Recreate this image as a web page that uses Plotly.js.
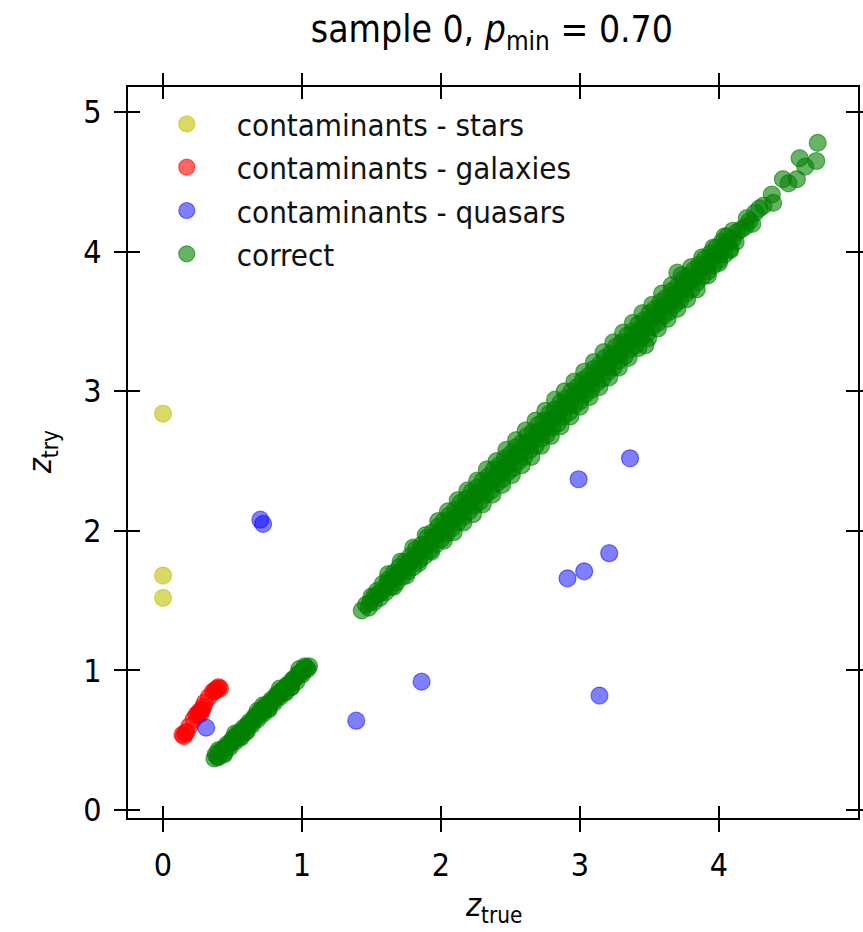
<!DOCTYPE html>
<html>
<head>
<meta charset="utf-8">
<script src="https://cdn.plot.ly/plotly-3.0.1.min.js"></script>
<style>
  html, body { margin: 0; padding: 0; background: #fff; }
  #chart { width: 863px; height: 932px; }
</style>
</head>
<body>
<div id="chart"></div>
<script>
// Contaminating stars: true redshift vs. the redshift tried
const starsZTrue = [0.00, 0.00, 0.00];
const starsZTry  = [2.84, 1.68, 1.52];

// Contaminating galaxies
const galaxiesZTrue = [0.14, 0.15, 0.16, 0.17, 0.19, 0.22, 0.24, 0.25, 0.26, 0.27, 0.27, 0.28,
                       0.29, 0.30, 0.33, 0.36, 0.37, 0.38, 0.39, 0.40, 0.41];
const galaxiesZTry  = [0.54, 0.53, 0.55, 0.56, 0.60, 0.65, 0.68, 0.69, 0.70, 0.71, 0.69, 0.72,
                       0.74, 0.77, 0.81, 0.85, 0.85, 0.86, 0.87, 0.88, 0.87];

// Contaminating quasars
const quasarsZTrue = [0.31, 0.70, 0.72, 1.39, 1.86, 3.36, 2.99, 3.21, 3.03, 2.91, 3.14];
const quasarsZTry  = [0.59, 2.08, 2.05, 0.64, 0.92, 2.52, 2.37, 1.84, 1.71, 1.66, 0.82];

// Correctly identified objects: low-z group
const correctLowZTrue = [
  0.37, 0.39, 0.41, 0.43, 0.45, 0.47, 0.49, 0.51, 0.53, 0.55,
  0.57, 0.59, 0.61, 0.63, 0.65, 0.67, 0.69, 0.71, 0.73, 0.75,
  0.77, 0.79, 0.81, 0.83, 0.85, 0.87, 0.89, 0.91, 0.93, 0.95,
  0.97, 0.99, 1.01, 1.03, 1.05,
  0.38, 0.40, 0.42, 0.44, 0.46, 0.48, 0.50, 0.52, 0.54, 0.56,
  0.58, 0.60, 0.62, 0.64, 0.66, 0.68, 0.70, 0.72, 0.74, 0.76,
  0.78, 0.80, 0.82, 0.84, 0.86, 0.88, 0.90, 0.92, 0.94, 0.96,
  0.98, 1.00, 1.02, 1.04,
  0.44, 0.52, 0.60, 0.68, 0.76, 0.84, 0.92, 0.98, 0.40, 0.56, 0.72, 0.88
];
const correctLowZTry = [
  0.37, 0.38, 0.41, 0.42, 0.45, 0.46, 0.49, 0.50, 0.53, 0.54,
  0.57, 0.58, 0.61, 0.62, 0.65, 0.66, 0.69, 0.70, 0.73, 0.74,
  0.77, 0.78, 0.81, 0.82, 0.85, 0.86, 0.89, 0.90, 0.93, 0.94,
  0.97, 0.98, 1.00, 1.02, 1.03,
  0.40, 0.38, 0.43, 0.41, 0.47, 0.45, 0.51, 0.49, 0.55, 0.53,
  0.59, 0.57, 0.63, 0.61, 0.67, 0.65, 0.71, 0.69, 0.75, 0.73,
  0.79, 0.77, 0.83, 0.81, 0.86, 0.85, 0.90, 0.88, 0.94, 0.92,
  0.98, 0.97, 1.03, 1.01,
  0.40, 0.55, 0.56, 0.71, 0.72, 0.87, 0.88, 1.01, 0.43, 0.52, 0.75, 0.84
];

// Correctly identified objects: main band, z > 1.4
const correctHighZTrue = [
  1.43, 1.46, 1.49, 1.52, 1.55, 1.58, 1.61, 1.64, 1.67, 1.70,
  1.73, 1.76, 1.79, 1.82, 1.85, 1.88, 1.91, 1.94, 1.97, 2.00,
  2.03, 2.06, 2.09, 2.12, 2.15, 2.18, 2.21, 2.24, 2.27, 2.30,
  2.33, 2.36, 2.39, 2.42, 2.45, 2.48, 2.51, 2.54, 2.57, 2.60,
  2.63, 2.66, 2.69, 2.72, 2.75, 2.78, 2.81, 2.84, 2.87, 2.90,
  2.93, 2.96, 2.99, 3.02, 3.05, 3.08, 3.11, 3.14, 3.17, 3.20,
  3.23, 3.26, 3.29, 3.32, 3.35, 3.38, 3.41, 3.44, 3.47, 3.50,
  3.53, 3.56, 3.59, 3.62, 3.65, 3.68, 3.71, 3.74, 3.77, 3.80,
  3.83, 3.86, 3.89, 3.92, 3.95, 3.98, 4.01, 4.04, 4.07, 4.10,
  4.13, 4.16, 4.19, 4.22,
  1.50, 1.54, 1.58, 1.62, 1.66, 1.70, 1.74, 1.78, 1.82, 1.86,
  1.90, 1.94, 1.98, 2.02, 2.06, 2.10, 2.14, 2.18, 2.22, 2.26,
  2.30, 2.34, 2.38, 2.42, 2.46, 2.50, 2.54, 2.58, 2.62, 2.66,
  2.70, 2.74, 2.78, 2.82, 2.86, 2.90, 2.94, 2.98, 3.02, 3.06,
  3.10, 3.14, 3.18, 3.22, 3.26, 3.30, 3.34, 3.38, 3.42, 3.46,
  3.50, 3.54, 3.58, 3.62, 3.66, 3.70, 3.74, 3.78, 3.82, 3.86,
  3.90, 3.94, 3.98, 4.02, 4.06, 4.10,
  1.48, 1.52, 1.56, 1.60, 1.64, 1.68, 1.72, 1.76, 1.80, 1.84,
  1.88, 1.92, 1.96, 2.00, 2.04, 2.08, 2.12, 2.16, 2.20, 2.24,
  2.28, 2.32, 2.36, 2.40, 2.44, 2.48, 2.52, 2.56, 2.60, 2.64,
  2.68, 2.72, 2.76, 2.80, 2.84, 2.88, 2.92, 2.96, 3.00, 3.04,
  3.08, 3.12, 3.16, 3.20, 3.24, 3.28, 3.32, 3.36, 3.40, 3.44,
  3.48, 3.52, 3.56, 3.60, 3.64, 3.68, 3.72, 3.76, 3.80, 3.84,
  3.88, 3.92, 3.96, 4.00, 4.04, 4.08, 4.12,
  // outer scatter above the band
  1.62, 1.71, 1.80, 1.89, 1.98, 2.05, 2.12, 2.19, 2.26, 2.33,
  2.40, 2.47, 2.54, 2.61, 2.68, 2.75, 2.82, 2.89, 2.96, 3.03,
  3.10, 3.17, 3.24, 3.31, 3.38, 3.45, 3.52, 3.59, 3.66, 3.73,
  3.80, 3.88, 3.96, 4.04,
  // outer scatter below the band
  1.66, 1.75, 1.84, 1.93, 2.02, 2.09, 2.16, 2.23, 2.30, 2.37,
  2.44, 2.51, 2.58, 2.65, 2.72, 2.79, 2.86, 2.93, 3.00, 3.07,
  3.14, 3.21, 3.28, 3.35, 3.42, 3.49, 3.56, 3.63, 3.70, 3.77,
  3.84, 3.92, 4.00, 4.08,
  3.47, 3.70, 4.20, 4.24, 4.26, 4.29, 4.32, 4.38, 4.39, 4.46,
  4.50, 4.56, 4.58, 4.62, 4.70, 4.71
];
const correctHighZTry = [
  1.43, 1.47, 1.49, 1.53, 1.55, 1.57, 1.62, 1.64, 1.68, 1.70,
  1.72, 1.77, 1.79, 1.82, 1.86, 1.88, 1.90, 1.95, 1.97, 2.00,
  2.02, 2.07, 2.09, 2.11, 2.16, 2.18, 2.20, 2.25, 2.27, 2.29,
  2.34, 2.36, 2.38, 2.43, 2.45, 2.47, 2.52, 2.54, 2.56, 2.61,
  2.63, 2.65, 2.70, 2.72, 2.74, 2.79, 2.81, 2.83, 2.88, 2.90,
  2.92, 2.97, 2.99, 3.01, 3.06, 3.08, 3.10, 3.15, 3.17, 3.19,
  3.24, 3.26, 3.28, 3.33, 3.35, 3.37, 3.42, 3.44, 3.46, 3.51,
  3.53, 3.55, 3.60, 3.62, 3.64, 3.69, 3.71, 3.73, 3.78, 3.80,
  3.82, 3.87, 3.89, 3.91, 3.96, 3.98, 4.00, 4.05, 4.07, 4.09,
  4.14, 4.16, 4.18, 4.22,
  1.53, 1.57, 1.62, 1.65, 1.70, 1.74, 1.78, 1.82, 1.87, 1.90,
  1.95, 1.99, 2.03, 2.07, 2.11, 2.15, 2.20, 2.23, 2.28, 2.31,
  2.36, 2.39, 2.44, 2.47, 2.52, 2.55, 2.60, 2.63, 2.68, 2.71,
  2.76, 2.79, 2.84, 2.87, 2.92, 2.95, 3.00, 3.03, 3.08, 3.11,
  3.16, 3.19, 3.24, 3.27, 3.32, 3.35, 3.40, 3.43, 3.48, 3.51,
  3.56, 3.59, 3.64, 3.67, 3.72, 3.75, 3.80, 3.83, 3.87, 3.91,
  3.95, 3.99, 4.03, 4.07, 4.11, 4.15,
  1.45, 1.49, 1.52, 1.56, 1.60, 1.63, 1.67, 1.71, 1.74, 1.79,
  1.82, 1.86, 1.90, 1.94, 1.98, 2.02, 2.06, 2.10, 2.14, 2.18,
  2.21, 2.26, 2.29, 2.34, 2.37, 2.42, 2.45, 2.50, 2.53, 2.58,
  2.61, 2.66, 2.69, 2.74, 2.77, 2.82, 2.85, 2.90, 2.93, 2.98,
  3.01, 3.06, 3.09, 3.14, 3.17, 3.22, 3.25, 3.30, 3.33, 3.38,
  3.41, 3.46, 3.49, 3.54, 3.57, 3.62, 3.65, 3.70, 3.73, 3.78,
  3.82, 3.86, 3.90, 3.94, 3.98, 4.02, 4.07,
  1.69, 1.78, 1.88, 1.97, 2.07, 2.14, 2.22, 2.29, 2.36, 2.44,
  2.50, 2.58, 2.65, 2.72, 2.79, 2.86, 2.94, 3.00, 3.07, 3.14,
  3.21, 3.28, 3.35, 3.42, 3.49, 3.56, 3.62, 3.70, 3.76, 3.83,
  3.89, 3.96, 4.03, 4.11,
  1.60, 1.68, 1.77, 1.85, 1.93, 1.99, 2.06, 2.12, 2.19, 2.26,
  2.33, 2.40, 2.47, 2.53, 2.61, 2.68, 2.75, 2.82, 2.89, 2.96,
  3.03, 3.10, 3.17, 3.24, 3.31, 3.38, 3.45, 3.52, 3.59, 3.66,
  3.73, 3.83, 3.92, 4.01,
  3.33, 3.85, 4.24, 4.20, 4.28, 4.31, 4.33, 4.41, 4.35, 4.52,
  4.49, 4.52, 4.67, 4.61, 4.65, 4.78
];

const correctZTrue = correctLowZTrue.concat(correctHighZTrue);
const correctZTry  = correctLowZTry.concat(correctHighZTry);

const xTicks = [0, 1, 2, 3, 4];
const yTicks = [0, 1, 2, 3, 4, 5];

const FONT = '"DejaVu Sans Condensed", "DejaVu Sans", sans-serif';

function series(name, x, y, rgba) {
  return {
    type: 'scatter', mode: 'markers', name: name, x: x, y: y,
    legendgroup: name,
    marker: { size: 17, color: rgba, line: { color: rgba, width: 1.2 } },
    hoverinfo: 'skip'
  };
}

const traces = [
  series('contaminants - stars', starsZTrue, starsZTry, 'rgba(191,191,0,0.6)'),
  series('contaminants - galaxies', galaxiesZTrue, galaxiesZTry, 'rgba(255,0,0,0.6)'),
  series('contaminants - quasars', quasarsZTrue, quasarsZTry, 'rgba(0,0,255,0.5)'),
  series('correct', correctZTrue, correctZTry, 'rgba(0,128,0,0.6)'),
  // empty trace that brings the inward-tick overlay axes to life
  { type: 'scatter', mode: 'markers', x: [], y: [], xaxis: 'x2', yaxis: 'y2',
    showlegend: false, hoverinfo: 'skip' }
];

const xRange = [-0.252, 5.0];
const yRange = [-0.057, 5.18];

const baseAxis = {
  showgrid: false, zeroline: false, showline: true,
  linecolor: '#000', linewidth: 2,
  tickcolor: '#000', tickwidth: 2, ticklen: 12,
  mirror: 'ticks', tickmode: 'array'
};

const layout = {
  width: 863, height: 932,
  margin: { l: 128, r: 5, t: 87, b: 114, pad: 0 },
  paper_bgcolor: '#fff', plot_bgcolor: '#fff',
  font: { family: FONT, color: '#000' },
  title: {
    text: 'sample 0, <i>p</i><sub>min</sub> = 0.70',
    font: { family: FONT, size: 37, color: '#000' },
    x: 0.57, xanchor: 'center', y: 0.969, yanchor: 'middle'
  },
  showlegend: true,
  legend: {
    x: 0.012, xanchor: 'left', y: 0.986, yanchor: 'top',
    bgcolor: 'rgba(0,0,0,0)', borderwidth: 0,
    font: { family: FONT, size: 31, color: '#111' },
    traceorder: 'grouped', tracegroupgap: 0, itemwidth: 90
  },
  annotations: [
    { text: '<i>z</i><sub>true</sub>', xref: 'paper', yref: 'paper',
      x: 0.5, y: -0.122, xanchor: 'center', yanchor: 'middle', showarrow: false,
      font: { family: FONT, size: 32, color: '#000' } },
    { text: '<i>z</i><sub>try</sub>', xref: 'paper', yref: 'paper',
      x: -0.118, y: 0.5, xanchor: 'center', yanchor: 'middle', showarrow: false,
      textangle: -90, font: { family: FONT, size: 32, color: '#000' } }
  ],
  xaxis: Object.assign({}, baseAxis, {
    range: xRange, ticks: 'outside', tickvals: xTicks,
    ticktext: xTicks.map(String),
    tickfont: { family: FONT, size: 32, color: '#000' },
    ticklabelstandoff: 6
  }),
  yaxis: Object.assign({}, baseAxis, {
    range: yRange, ticks: 'outside', tickvals: yTicks,
    ticktext: yTicks.map(String),
    tickfont: { family: FONT, size: 32, color: '#000' },
    ticklabelstandoff: 6
  }),
  xaxis2: Object.assign({}, baseAxis, {
    range: xRange, overlaying: 'x', ticks: 'inside', tickvals: xTicks,
    showticklabels: false
  }),
  yaxis2: Object.assign({}, baseAxis, {
    range: yRange, overlaying: 'y', ticks: 'inside', tickvals: yTicks,
    showticklabels: false
  })
};

Plotly.newPlot('chart', traces, layout, { staticPlot: true, displayModeBar: false });
</script>
</body>
</html>
